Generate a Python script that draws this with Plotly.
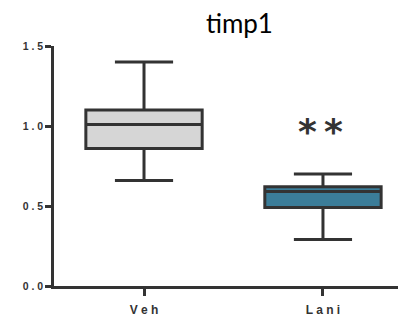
import plotly.graph_objects as go

categories = ["Veh", "Lani"]
tick_labels = ["V e h", "L a n i"]
lower_whisker = [0.66, 0.29]
q1_vals = [0.86, 0.49]
median_vals = [1.01, 0.59]
q3_vals = [1.10, 0.62]
upper_whisker = [1.40, 0.70]
fill_colors = ["#d6d6d6", "#3b7d99"]
y_ticks = [0.0, 0.5, 1.0, 1.5]
y_tick_text = ["0 . 0", "0 . 5", "1 . 0", "1 . 5"]
sig_text = "*\u2009*"

fig = go.Figure()
for i, c in enumerate(categories):
    fig.add_trace(go.Box(
        x=[i], q1=[q1_vals[i]], median=[median_vals[i]], q3=[q3_vals[i]],
        lowerfence=[lower_whisker[i]], upperfence=[upper_whisker[i]],
        fillcolor=fill_colors[i], line=dict(color="#333333", width=3),
        width=0.65, whiskerwidth=0.5, boxpoints=False, showlegend=False,
        hoverinfo="skip"))

fig.add_annotation(x=1, y=0.965, text=sig_text, showarrow=False,
                   font=dict(size=36, color="#333333", family="DejaVu Sans", weight="bold"),
                   xref="x", yref="y", yanchor="middle", xshift=-2)

# page body has an 8px margin; margins compensate so the plot lands where the reference has it
fig.update_layout(
    width=406, height=326,
    margin=dict(l=46, r=8, t=38, b=48),
    paper_bgcolor="white", plot_bgcolor="white",
    title=dict(text="timp1", x=0.57, xanchor="center", y=0.95, yanchor="middle",
               font=dict(size=26, color="black", family="Lato")),
    xaxis=dict(range=[-0.503, 1.464], tickvals=[0, 1], ticktext=tick_labels,
               showline=True, linecolor="#333333", linewidth=2.5,
               ticks="outside", ticklen=7, tickwidth=2.5, tickcolor="#333333",
               ticklabelstandoff=4,
               showgrid=False, zeroline=False,
               tickfont=dict(size=12, color="#333333", family="Liberation Sans"),
               fixedrange=True),
    yaxis=dict(range=[0, 1.5], tickvals=y_ticks, ticktext=y_tick_text,
               showline=True, linecolor="#333333", linewidth=2.5,
               ticks="outside", ticklen=6, tickwidth=2.5, tickcolor="#333333",
               showgrid=False, zeroline=False,
               tickfont=dict(size=10.5, color="#333333", family="Liberation Sans"),
               fixedrange=True),
)
fig.update_xaxes(tickfont_weight="bold")
fig.update_yaxes(tickfont_weight="bold")

fig.write_html("out.html")
